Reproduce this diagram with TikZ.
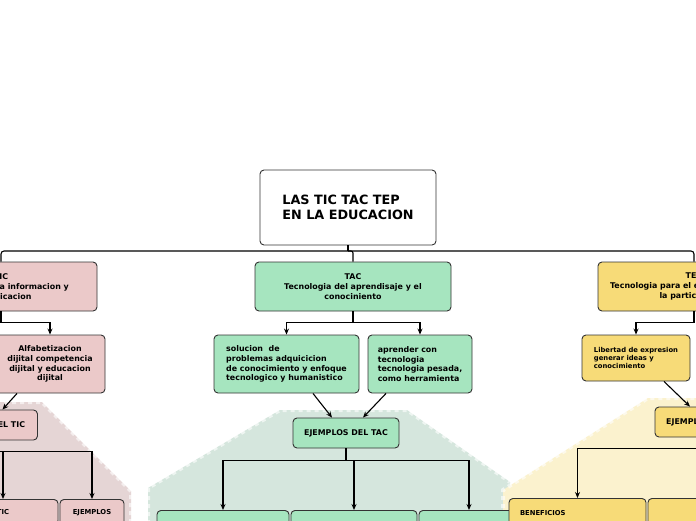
\documentclass[tikz,border=0pt]{standalone}
\usepackage{fontspec}
\setmainfont{DejaVu Sans}
\usetikzlibrary{arrows.meta}
\definecolor{pk}{HTML}{EBC9C9}
\definecolor{gr}{HTML}{A6E5BF}
\definecolor{yl}{HTML}{F7DB78}
\definecolor{pkbg}{HTML}{E5D5D5}
\definecolor{grbg}{HTML}{D5E6DD}
\definecolor{ylbg}{HTML}{FBF2CE}
\definecolor{bd}{HTML}{333333}
\begin{document}
\begin{tikzpicture}[x=1pt,y=-1pt,
 box/.style={draw=bd, line width=0.9pt, rounded corners=4pt, inner sep=0pt, text=black,
   font=\bfseries\fontsize{7.9}{9.7}\selectfont, align=center},
 pkbox/.style={box, fill=pk},
 grbox/.style={box, fill=gr},
 ylbox/.style={box, fill=yl},
 small/.style={font=\bfseries\fontsize{6.8}{8.3}\selectfont},
 ln/.style={line width=1.1pt, draw=black},
 arr/.style={ln, -{Stealth[length=6pt,width=5pt]}},
 bgedge/.style={draw=white, line width=4pt, dash pattern=on 4pt off 4pt, opacity=0.6}
]
\useasboundingbox (0,0) rectangle (696,520);
\clip (0,0) rectangle (696,520);
\fill[white] (0,0) rectangle (696,520);
% background blobs
\fill[pkbg] (-20,402) -- (42,402) -- (131,491) -- (131,540) -- (-20,540) -- cycle;
\draw[bgedge] (-20,402) -- (42,402) -- (131,491) -- (131,540);
\fill[grbg] (148,540) -- (148,488) -- (280,410) -- (407,410) -- (510,482) -- (510,540) -- cycle;
\draw[bgedge] (148,540) -- (148,488) -- (280,410) -- (407,410) -- (510,482);
\fill[ylbg] (503,540) -- (503,490) -- (648,398) -- (720,398) -- (720,540) -- cycle;
\draw[bgedge] (503,540) -- (503,490) -- (648,398) -- (720,398);

% nodes
\node[box, fill=white, minimum width=176, minimum height=75, align=left,
  font=\bfseries\fontsize{12.8}{14.5}\selectfont] (root) at (348,207.5) {LAS TIC TAC TEP\\EN LA EDUCACION};
\node[pkbox, minimum width=192, minimum height=49] (tic) at (1,286.5) {TIC\\Tecnologia de la informacion y\\comunicacion};
\node[grbox, minimum width=196, minimum height=49] (tac) at (353,286.5) {TAC\\Tecnologia del aprendisaje y el\\conociniento};
\node[ylbox, minimum width=192, minimum height=49] (tep) at (694,286.5) {TEP\\Tecnologia para el empoderamiento y\\la participacion};

\node[pkbox, minimum width=110, minimum height=58] (alf) at (50,364) {Alfabetizacion\\dijital competencia\\dijital y educacion\\dijital};
\node[grbox, minimum width=145, minimum height=58, align=left] (sol) at (286.5,364) {solucion\ \ de\\problemas adquicicion\\de conocimiento y enfoque\\tecnologico y humanistico};
\node[grbox, minimum width=104, minimum height=58, align=left] (apr) at (420,364) {aprender con\\tecnologia\\tecnologia pesada,\\como herramienta};
\node[ylbox, small, minimum width=108, minimum height=46, align=left] (lib) at (636,358) {Libertad de expresion\\generar ideas y\\conocimiento};

\node[pkbox, minimum width=106, minimum height=30] (ejtic) at (-15.5,425) {EJEMPLOS DEL TIC};
\node[grbox, minimum width=106, minimum height=30] (ejtac) at (346,433) {EJEMPLOS DEL TAC};
\node[ylbox, minimum width=106, minimum height=30] (ejtep) at (708,422) {EJEMPLOS DEL TEP};

\node[pkbox, small, anchor=north, minimum width=110, inner ysep=10] (t1) at (3,499) {TIC};
\node[pkbox, small, anchor=north, minimum width=64, inner ysep=10] (t2) at (92,499) {EJEMPLOS};
\node[grbox, anchor=north, minimum width=132, minimum height=30] (g1) at (223,510) {};
\node[grbox, anchor=north, minimum width=126, minimum height=30] (g2) at (354,510) {};
\node[grbox, anchor=north, minimum width=100, minimum height=30] (g3) at (469,510) {};
\node[ylbox, anchor=north, minimum width=144, minimum height=30] (y2) at (720,498) {};
\node[ylbox, small, anchor=north, text width=115, inner xsep=11, inner ysep=12, align=left] (ben) at (577.5,498) {BENEFICIOS};

% connectors
\coordinate (bar) at (348,251);
\draw[ln] (root.south) -- (bar);
\draw[ln, rounded corners=3pt] (bar) -| (tic.north);
\draw[ln, rounded corners=2pt] (bar) -| (tac.north);
\draw[ln, rounded corners=3pt] (bar) -| (tep.north);

\draw[arr] (tic.south) -- ++(0,11) -| (alf.north);
\draw[ln] (tac.south) -- ++(0,11) coordinate (tj);
\draw[arr] (tj) -| (sol.north);
\draw[arr] (tj) -| (apr.north);
\draw[arr] (tep.south) -- ++(0,11) -| (lib.north);

\draw[arr] ([xshift=-33pt]alf.south) -- ([xshift=18pt]ejtic.north);
\draw[arr] ([xshift=26.5pt]sol.south) -- ([xshift=-14pt]ejtac.north);
\draw[arr] ([xshift=-34pt]apr.south) -- ([xshift=17pt]ejtac.north);
\draw[arr] ([xshift=28pt]lib.south) -- ([xshift=-18pt]ejtep.north);

\draw[ln] (ejtic.south) -- ++(0,11) coordinate (pj);
\draw[arr] (pj) -| (t1.north);
\draw[arr] (pj) -| (t2.north);
\draw[ln] (ejtac.south) -- ++(0,12) coordinate (gj);
\draw[arr] (gj) -| (g1.north);
\draw[arr] (gj) -| (g2.north);
\draw[arr] (gj) -| (g3.north);
\draw[ln] (ejtep.south) -- ++(0,11) coordinate (yj);
\draw[arr] (yj) -| (ben.north);
\draw[arr] (yj) -| (y2.north);
\end{tikzpicture}
\end{document}
